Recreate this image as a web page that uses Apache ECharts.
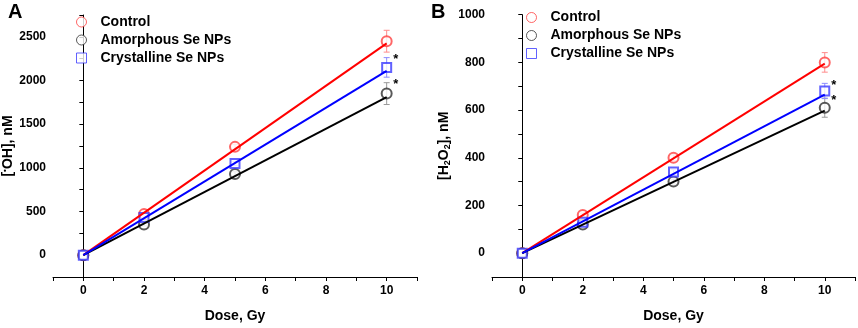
<!DOCTYPE html>
<html><head><meta charset="utf-8">
<script src="https://cdn.jsdelivr.net/npm/echarts@6/dist/echarts.min.js"></script>
<style>html,body{margin:0;padding:0;background:#fff}#c{width:858px;height:328px}</style>
</head><body><div id="c"></div>
<script>
// ---- data ----
const doses = [0, 2, 5, 10];
const seriesNames = ['Control', 'Amorphous Se NPs', 'Crystalline Se NPs'];
// Panel A: [•OH], nM
const ohControl = [0, 470, 1240, 2450];
const ohAmorph  = [0, 350, 930, 1850];
const ohCryst   = [0, 430, 1050, 2150];
const ohControlErr = [0, 20, 30, 125];
const ohAmorphErr  = [0, 15, 25, 125];
const ohCrystErr   = [0, 15, 25, 112];
const fitDoses = [0, 10];
const ohControlFit = [0, 2425];
const ohAmorphFit  = [0, 1810];
const ohCrystFit   = [0, 2110];
// Panel B: [H2O2], nM
const hpControl = [0, 160, 400, 800];
const hpAmorph  = [0, 120, 300, 610];
const hpCryst   = [0, 130, 340, 680];
const hpControlErr = [0, 8, 12, 41];
const hpAmorphErr  = [0, 6, 10, 40];
const hpCrystErr   = [0, 6, 10, 32];
const hpControlFit = [0, 795];
const hpAmorphFit  = [0, 598];
const hpCrystFit   = [0, 665];
// significance marks (dose 10): control, amorphous, crystalline
const signif = [false, true, true];
const xTickLabels = ['0', '2', '4', '6', '8', '10'];

// ---- styles ----
const FONT = 'Liberation Sans, Arial, sans-serif';
const markerColors = ['#ff4040', '#303030', '#3a3aff'];
const lineColors = ['#ff0000', '#000000', '#0000ff'];
const errColors = ['#ff8c8c', '#9a9a9a', '#8c8cff'];
const symbols = ['emptyCircle', 'emptyCircle', 'emptyRect'];
const symbolSizes = [10, 10, 9];

const chart = echarts.init(document.getElementById('c'));

function pairs(xs, ys) { return xs.map((x, i) => [x, ys[i]]); }

function xAxisCfg(gi) {
  return {
    type: 'value', gridIndex: gi, min: -1, max: 11, interval: 1,
    name: 'Dose, Gy', nameLocation: 'middle', nameGap: 32,
    nameTextStyle: { fontFamily: FONT, fontWeight: 'bold', fontSize: 14, color: '#000' },
    axisLine: { show: true, onZero: false, lineStyle: { color: '#000', width: 1 } },
    axisTick: { show: true, length: 4, lineStyle: { color: '#000' } },
    axisLabel: {
      fontFamily: FONT, fontWeight: 'bold', fontSize: 12, color: '#000', margin: 8,
      formatter: v => xTickLabels.indexOf(String(v)) >= 0 ? String(v) : ''
    },
    splitLine: { show: false }
  };
}
function yAxisCfg(gi, min, max, interval, labelStep, name, rich, gap) {
  return {
    type: 'value', gridIndex: gi, min: min, max: max, interval: interval,
    name: name, nameLocation: 'middle', nameGap: gap, nameRotate: 90,
    nameTextStyle: { fontFamily: FONT, fontWeight: 'bold', fontSize: 14, color: '#000', rich: rich },
    axisLine: { show: true, lineStyle: { color: '#000', width: 1 } },
    axisTick: { show: true, length: 4, lineStyle: { color: '#000' } },
    axisLabel: {
      fontFamily: FONT, fontWeight: 'bold', fontSize: 12, color: '#000', margin: 7,
      formatter: v => (v >= 0 && v % labelStep === 0) ? String(v) : ''
    },
    splitLine: { show: false }
  };
}

const series = [];
function addPanel(gi, vals, errs, fits) {
  for (let s = 0; s < 3; s++) {
    const data = doses.map((d, i) => [d, vals[s][i], errs[s][i]]);
    // error bars
    series.push({
      type: 'custom', xAxisIndex: gi, yAxisIndex: gi, z: 2, silent: true,
      data: data,
      renderItem: function (params, api) {
        const x = api.value(0), y = api.value(1), e = api.value(2);
        const top = api.coord([x, y + e]), bot = api.coord([x, y - e]);
        const w = 3;
        const ls = { stroke: errColors[s], lineWidth: 1 };
        const children = [
          { type: 'line', shape: { x1: top[0], y1: top[1], x2: bot[0], y2: bot[1] }, style: ls },
          { type: 'line', shape: { x1: top[0] - w, y1: top[1], x2: top[0] + w, y2: top[1] }, style: ls },
          { type: 'line', shape: { x1: bot[0] - w, y1: bot[1], x2: bot[0] + w, y2: bot[1] }, style: ls }
        ];
        if (signif[s] && params.dataIndex === doses.length - 1) {
          children.push({ type: 'text', style: {
            text: '*', x: top[0] + 9, y: top[1] + 2, fill: '#000',
            font: 'bold 13px ' + FONT, textAlign: 'center', textVerticalAlign: 'middle' } });
        }
        return { type: 'group', children: children };
      }
    });
    // markers
    series.push({
      type: 'scatter', name: seriesNames[s], xAxisIndex: gi, yAxisIndex: gi, z: 3,
      symbol: symbols[s], symbolSize: symbolSizes[s],
      itemStyle: { color: markerColors[s], borderColor: markerColors[s], borderWidth: 1 },
      data: pairs(doses, vals[s])
    });
    // fitted lines
    series.push({
      type: 'line', xAxisIndex: gi, yAxisIndex: gi, z: 4, symbol: 'none', silent: true,
      lineStyle: { color: lineColors[s], width: 2 },
      data: pairs(fitDoses, fits[s])
    });
  }
}
addPanel(0, [ohControl, ohAmorph, ohCryst], [ohControlErr, ohAmorphErr, ohCrystErr], [ohControlFit, ohAmorphFit, ohCrystFit]);
addPanel(1, [hpControl, hpAmorph, hpCryst], [hpControlErr, hpAmorphErr, hpCrystErr], [hpControlFit, hpAmorphFit, hpCrystFit]);

function legendCfg(left, top) {
  return {
    orient: 'vertical', left: left, top: top, itemWidth: 10, itemHeight: 10, itemGap: 2,
    padding: 0, selectedMode: false,
    data: seriesNames.map((n, i) => ({ name: n, icon: symbols[i] === 'emptyRect' ? 'rect' : 'circle',
      itemStyle: { color: '#fff', borderColor: markerColors[i], borderWidth: 1 } })),
    textStyle: { fontFamily: FONT, fontWeight: 'bold', fontSize: 14, lineHeight: 16, color: '#000', padding: [0, 0, 0, 9] }
  };
}

chart.setOption({
  animation: false,
  textStyle: { fontFamily: FONT },
  title: [
    { text: 'A', left: 3, top: -3, textStyle: { fontFamily: FONT, fontWeight: 'bold', fontSize: 20, color: '#000' } },
    { text: 'B', left: 426, top: -3, textStyle: { fontFamily: FONT, fontWeight: 'bold', fontSize: 20, color: '#000' } }
  ],
  legend: [legendCfg(76, 14), legendCfg(526, 9.5)],
  grid: [
    { left: 53, right: 441, top: 15, bottom: 45 },
    { left: 492, right: 2, top: 14.7, bottom: 45 }
  ],
  xAxis: [xAxisCfg(0), xAxisCfg(1)],
  yAxis: [
    yAxisCfg(0, -250, 2750, 250, 500, '[{sup|•}OH], nM', { sup: { fontFamily: FONT, fontWeight: 'bold', fontSize: 8, verticalAlign: 'top', padding: [0,0,6,0] } }, 38),
    yAxisCfg(1, -100, 1000, 100, 200, '[H{sub|2}O{sub|2}], nM', { sub: { fontFamily: FONT, fontWeight: 'bold', fontSize: 9, padding: [6,0,0,0] } }, 40)
  ],
  series: series
});
</script></body></html>
